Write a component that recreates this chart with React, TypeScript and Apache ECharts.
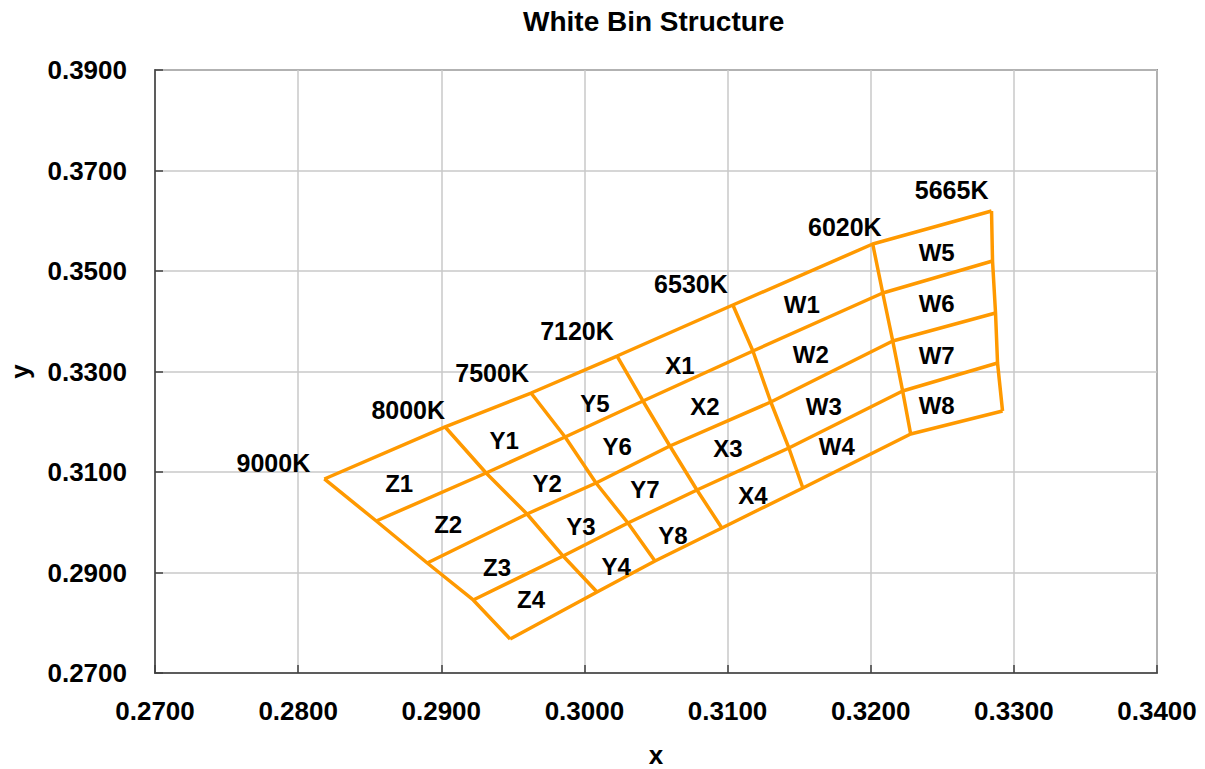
import React, { useEffect, useRef } from "react";
import * as echarts from "echarts";

// CCT boundary lines: nodes from top row (R0) to bottom row (R4), [x, y]
const CCT_NAMES = ["9000K", "8000K", "7500K", "7120K", "6530K", "6020K", "5665K"];
const NODE_9000K = [[0.28183, 0.30861], [0.28546, 0.30025], [0.28902, 0.29189], [0.29223, 0.28453], [0.29481, 0.27677]];
const NODE_8000K = [[0.29027, 0.31896], [0.29313, 0.30980], [0.29599, 0.30164], [0.29851, 0.29328], [0.30088, 0.28612]];
const NODE_7500K = [[0.29627, 0.32572], [0.29865, 0.31697], [0.30081, 0.30781], [0.30304, 0.29985], [0.30493, 0.29229]];
const NODE_7120K = [[0.30228, 0.33308], [0.30409, 0.32413], [0.30597, 0.31517], [0.30786, 0.30642], [0.30960, 0.29886]];
const NODE_6530K = [[0.31037, 0.34323], [0.31177, 0.33408], [0.31302, 0.32393], [0.31428, 0.31478], [0.31526, 0.30682]];
const NODE_6020K = [[0.32014, 0.35537], [0.32084, 0.34562], [0.32154, 0.33607], [0.32223, 0.32612], [0.32279, 0.31756]];
const NODE_5665K = [[0.32844, 0.36194], [0.32851, 0.35199], [0.32872, 0.34164], [0.32886, 0.33169], [0.32921, 0.32214]];

// CCT label anchor points
const CCT_LABEL_POS = [
  [0.27827, 0.31179], [0.28769, 0.32234], [0.29355, 0.32970], [0.29948, 0.33806],
  [0.30744, 0.34741], [0.31819, 0.35876], [0.32565, 0.36612],
];

// Bin names and their label anchor points
const BIN_NAMES = [
  "Z1", "Z2", "Z3", "Z4",
  "Y1", "Y2", "Y3", "Y4", "Y5", "Y6", "Y7", "Y8",
  "X1", "X2", "X3", "X4",
  "W1", "W2", "W3", "W4", "W5", "W6", "W7", "W8",
];
const BIN_X = [
  0.28706, 0.29048, 0.29390, 0.29627,
  0.29439, 0.29739, 0.29976, 0.30221, 0.30074, 0.30228, 0.30423, 0.30618,
  0.30667, 0.30842, 0.31002, 0.31177,
  0.31519, 0.31581, 0.31672, 0.31763, 0.32461, 0.32461, 0.32461, 0.32461,
];
const BIN_Y = [
  0.30781, 0.29965, 0.29109, 0.28453,
  0.31617, 0.30781, 0.29925, 0.29129, 0.32373, 0.31498, 0.30642, 0.29746,
  0.33129, 0.32294, 0.31458, 0.30542,
  0.34343, 0.33348, 0.32313, 0.31498, 0.35378, 0.34363, 0.33328, 0.32333,
];

const FONT = '"Liberation Sans", Arial, sans-serif';
const ORANGE = "#FF9900";

export default function App() {
  const ref = useRef<HTMLDivElement>(null);
  useEffect(() => {
    if (!ref.current) return;
    const chart = echarts.init(ref.current, null, { renderer: "svg" });
    const columns = [NODE_9000K, NODE_8000K, NODE_7500K, NODE_7120K, NODE_6530K, NODE_6020K, NODE_5665K];
    const rows = [0, 1, 2, 3, 4].map((r) => columns.map((c) => c[r]));
    const lineStyle = { color: ORANGE, width: 3.5 };
    const series: any[] = [];
    columns.forEach((col, i) => {
      series.push({
        type: "line", name: "cct" + i, data: col, symbol: "none", showSymbol: false,
        lineStyle, silent: true, z: 2,
      });
    });
    rows.forEach((row, i) => {
      series.push({
        type: "line", name: "row" + i, data: row, symbol: "none", showSymbol: false,
        lineStyle, silent: true, z: 2,
      });
    });
    const labelBase = {
      show: true, position: "inside", formatter: "{b}", fontFamily: FONT, fontWeight: "bold",
      color: "#000", textBorderWidth: 0, textBorderColor: "transparent", opacity: 1,
    };
    series.push({
      type: "scatter", name: "cctLabels", symbolSize: 2, itemStyle: { color: "transparent" }, z: 5, silent: true,
      data: CCT_NAMES.map((n, i) => ({ name: n, value: CCT_LABEL_POS[i] })),
      label: { ...labelBase, fontSize: 25 },
    });
    series.push({
      type: "scatter", name: "binLabels", symbolSize: 2, itemStyle: { color: "transparent" }, z: 5, silent: true,
      data: BIN_NAMES.map((n, i) => ({ name: n, value: [BIN_X[i], BIN_Y[i]] })),
      label: { ...labelBase, fontSize: 24 },
    });

    chart.setOption({
      animation: false,
      backgroundColor: "#fff",
      title: {
        text: "White Bin Structure", left: 518, top: 2,
        textStyle: { fontFamily: FONT, fontWeight: "bold", fontSize: 28, color: "#000" },
      },
      grid: {
        left: 155, right: 48, top: 70, bottom: 96,
        outerBoundsMode: "none", containLabel: false,
        show: true, borderColor: "#404040", borderWidth: 1.5, backgroundColor: "transparent",
      },
      xAxis: {
        type: "value", min: 0.27, max: 0.34, interval: 0.01,
        name: "x", nameLocation: "middle", nameGap: 69,
        nameTextStyle: { fontFamily: FONT, fontWeight: "bold", fontSize: 26, color: "#000" },
        axisLine: { show: true, lineStyle: { color: "#404040", width: 1.5 } },
        axisTick: { show: true, inside: true, length: 8, lineStyle: { color: "#404040", width: 1.5 } },
        axisLabel: {
          margin: 25, formatter: (v: number) => v.toFixed(4),
          fontFamily: FONT, fontWeight: "bold", fontSize: 26, color: "#000",
        },
        splitLine: { show: true, lineStyle: { color: "#c8c8c8", width: 1.5 } },
      },
      yAxis: {
        type: "value", min: 0.27, max: 0.39, interval: 0.02,
        name: "y", nameLocation: "middle", nameGap: 122,
        nameTextStyle: { fontFamily: FONT, fontWeight: "bold", fontSize: 26, color: "#000" },
        axisLine: { show: true, lineStyle: { color: "#404040", width: 1.5 } },
        axisTick: { show: true, inside: true, length: 8, lineStyle: { color: "#404040", width: 1.5 } },
        axisLabel: {
          margin: 28, formatter: (v: number) => v.toFixed(4),
          fontFamily: FONT, fontWeight: "bold", fontSize: 26, color: "#000",
        },
        splitLine: { show: true, lineStyle: { color: "#c8c8c8", width: 1.5 } },
      },
      series,
    });
    return () => chart.dispose();
  }, []);
  return (
    <div
      ref={ref}
      style={{ position: "fixed", left: 0, top: 0, width: 1205, height: 769, background: "#fff" }}
    />
  );
}
